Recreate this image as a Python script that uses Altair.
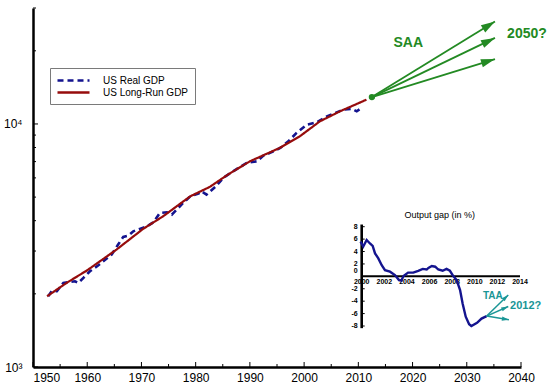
import math
import altair as alt
import pandas as pd

# ---------------- data ----------------
# US real GDP (billions of chained dollars)
real_years = [1952.8, 1953.45, 1954.4, 1955.6, 1956.5, 1957.75, 1958.35, 1959.3, 1960.5, 1962.0,
              1964.5, 1965.7, 1966.65, 1967.6, 1968.5, 1969.7, 1971.0, 1972.2, 1973.4, 1974.7,
              1975.6, 1976.8, 1977.7, 1979.0, 1980.5, 1981.1, 1982.0, 1983.6, 1985.1, 1986.9,
              1989.4, 1991.3, 1992.5, 1993.7, 1995.6, 1997.1, 1998.6, 2000.5, 2002.3, 2004.2,
              2006.0, 2007.2, 2008.8, 2009.7, 2010.6]
real_gdp = [1955, 2050, 2050, 2219, 2232, 2253, 2219, 2327, 2477, 2615,
            2901, 3190, 3431, 3474, 3617, 3701, 3793, 3939, 4306, 4330,
            4237, 4514, 4733, 5038, 5168, 5283, 5120, 5508, 5998, 6387,
            6915, 7019, 7407, 7601, 7966, 8484, 9184, 9934, 10152, 10745,
            11160, 11451, 11528, 11268, 11637]

# US long-run (trend) GDP
trend_years = [1952.6, 1956.2, 1960.0, 1965.4, 1970.3, 1974.0, 1979.0, 1982.6, 1986.0,
               1990.0, 1995.5, 1999.2, 2002.9, 2006.6, 2011.5]
trend_gdp = [1955, 2219, 2500, 3042, 3700, 4170, 5038, 5508, 6200,
             7019, 7966, 8894, 10250, 11268, 12586]

# long-run scenarios out to 2050
saa_origin_year = 2012.5
saa_origin_gdp = 12900
saa_end_years = [2035.2, 2035.2, 2035.2]
saa_end_gdp = [26400, 22600, 18500]
saa_labels = ["SAA", "2050?"]
saa_label_years = [2019.2, 2041.1]
saa_label_gdp = [21600, 23500]

# output gap, in percent
gap_years = [1999.9, 2000.14, 2000.44, 2000.73, 2000.97, 2001.18, 2001.47, 2001.77, 2002.06, 2002.5,
             2002.94, 2003.3, 2003.5, 2003.7, 2004.1, 2004.56, 2005.0, 2005.4, 2005.75, 2005.9,
             2006.2, 2006.5, 2006.77, 2007.16, 2007.5, 2007.8, 2008.1, 2008.4, 2008.7, 2008.93,
             2009.2, 2009.5, 2009.7, 2010.2, 2010.6, 2011.05]
gap_values = [5.6, 4.8, 5.85, 5.3, 4.9, 3.7, 2.9, 1.8, 1.0, 0.75,
              0.2, -0.6, -0.7, 0.05, 0.6, 0.6, 0.9, 1.2, 1.1, 1.35,
              1.66, 1.55, 1.1, 0.9, 1.2, 0.9, 0.05, -0.6, -2.2, -4.4,
              -6.5, -7.7, -8.0, -7.5, -6.8, -6.4]

# short-run scenarios for 2012
taa_origin_year = 2011.05
taa_origin_gap = -6.4
taa_end_years = [2012.96, 2012.96, 2013.02]
taa_end_gap = [-3.0, -4.85, -7.0]
taa_labels = ["TAA", "2012?"]
taa_label_years = [2011.6, 2014.5]
taa_label_gap = [-3.2, -4.8]

series_names = ["US Real GDP", "US Long-Run GDP"]
x_label_years = list(range(1950, 2041, 10))
x_minor_years = list(range(1955, 2040, 10))
y_major_values = [1000, 10000]
y_major_labels = ["10³", "10⁴"]
y_minor_values = [2000, 3000, 4000, 5000, 6000, 7000, 8000, 9000, 20000, 30000]
gap_tick_years = list(range(2000, 2015, 2))
gap_tick_values = [-8, -6, -4, -2, 2, 4, 6, 8]
gap_title = "Output gap (in %)"

# ---------------- layout & style ----------------
W, H = 488, 359
YEAR_DOMAIN = [1950, 2040]
GDP_DOMAIN = [1000, 30000]
INSET_YEARS = [2000, 2014]
INSET_GAP = [-8, 8]
INSET_X_RANGE = [328.7, 487.0]
INSET_Y_RANGE = [318.0, 218.7]

FONT = "Liberation Sans"
BLUE = "#14148f"
RED = "#960c0c"
GREEN = "#238a23"
TEAL = "#1a9696"
ARROW = "M0,0L0.6,2L-0.6,2Z"


def main_px(year):
    return (year - YEAR_DOMAIN[0]) / (YEAR_DOMAIN[1] - YEAR_DOMAIN[0]) * W


def main_py(v):
    lo, hi = math.log10(GDP_DOMAIN[0]), math.log10(GDP_DOMAIN[1])
    return (hi - math.log10(v)) / (hi - lo) * H


def inset_px(year):
    f = (year - INSET_YEARS[0]) / (INSET_YEARS[1] - INSET_YEARS[0])
    return INSET_X_RANGE[0] + f * (INSET_X_RANGE[1] - INSET_X_RANGE[0])


def inset_py(g):
    f = (g - INSET_GAP[0]) / (INSET_GAP[1] - INSET_GAP[0])
    return INSET_Y_RANGE[0] + f * (INSET_Y_RANGE[1] - INSET_Y_RANGE[0])


def bearing(dx, dy):
    return math.degrees(math.atan2(dx, -dy)) % 360


label_expr = " : ".join(
    f"datum.value == {v} ? '{t}'" for v, t in zip(y_major_values, y_major_labels)
) + " : ''"

x_axis = alt.Axis(
    values=x_label_years, format="d", ticks=False, grid=False, domainColor="black", domainWidth=2.5,
    labelFont=FONT, labelFontSize=12, labelColor="black", labelPadding=5,
    labelFlush=False, labelOverlap=False, title=None,
    labelAlign={"condition": {"test": f"datum.value == {YEAR_DOMAIN[0]}", "value": "left"},
                "value": "center"},
)
y_axis = alt.Axis(
    values=y_major_values, labelExpr=label_expr, ticks=False, grid=False,
    domainColor="black", domainWidth=2.5, labelFont=FONT, labelFontSize=12,
    labelColor="black", labelPadding=11, labelOverlap=False, title=None,
)
x_scale = alt.Scale(domain=YEAR_DOMAIN, nice=False, zero=False)
y_scale = alt.Scale(type="log", domain=GDP_DOMAIN, nice=False)


def X(field):
    return alt.X(field, type="quantitative", scale=x_scale, axis=x_axis)


def Y(field):
    return alt.Y(field, type="quantitative", scale=y_scale, axis=y_axis)


ix_scale = alt.Scale(domain=INSET_YEARS, range=INSET_X_RANGE, nice=False, zero=False)
iy_scale = alt.Scale(domain=INSET_GAP, range=INSET_Y_RANGE, nice=False, zero=False)


def IX(field):
    return alt.X(field, type="quantitative", scale=ix_scale, axis=None)


def IY(field):
    return alt.Y(field, type="quantitative", scale=iy_scale, axis=None)


# ---------------- main panel ----------------
real_df = pd.DataFrame({"year": real_years, "gdp": real_gdp, "series": series_names[0]})
trend_df = pd.DataFrame({"year": trend_years, "gdp": trend_gdp, "series": series_names[1]})

legend = alt.Legend(
    orient="none", legendX=17, legendY=60, title=None,
    symbolType="M-1,0H5.4", symbolSize=100, symbolStrokeWidth=2.5,
    labelFont=FONT, labelFontSize=10, labelColor="black", labelOffset=34,
    labelLimit=300, strokeColor="#7a7a7a", fillColor="white", padding=6, rowPadding=0,
)
color_enc = alt.Color("series:N", scale=alt.Scale(domain=series_names, range=[BLUE, RED]),
                      legend=legend)
dash_enc = alt.StrokeDash("series:N", scale=alt.Scale(domain=series_names, range=[[6, 4], [1, 0]]),
                          legend=legend)

real_line = alt.Chart(real_df).mark_line(strokeWidth=2.6).encode(
    x=X("year"), y=Y("gdp"), color=color_enc, strokeDash=dash_enc)
trend_line = alt.Chart(trend_df).mark_line(strokeWidth=2.2).encode(
    x=X("year"), y=Y("gdp"), color=color_enc, strokeDash=dash_enc)

# inward ticks on both axes
x_major_ticks = alt.Chart(pd.DataFrame({"year": x_label_years})).mark_rule(
    color="black", strokeWidth=1).encode(x=X("year"), y=alt.value(H), y2=alt.value(H - 5))
x_minor_ticks = alt.Chart(pd.DataFrame({"year": x_minor_years})).mark_rule(
    color="black", strokeWidth=1).encode(x=X("year"), y=alt.value(H), y2=alt.value(H - 3))
y_major_ticks = alt.Chart(pd.DataFrame({"gdp": y_major_values})).mark_rule(
    color="black", strokeWidth=1).encode(y=Y("gdp"), x=alt.value(0), x2=alt.value(5))
y_minor_ticks = alt.Chart(pd.DataFrame({"gdp": y_minor_values})).mark_rule(
    color="black", strokeWidth=1).encode(y=Y("gdp"), x=alt.value(0), x2=alt.value(3))

# SAA scenario arrows
ox, oy = main_px(saa_origin_year), main_py(saa_origin_gdp)
saa_df = pd.DataFrame({
    "year": [saa_origin_year] * len(saa_end_years),
    "gdp": [saa_origin_gdp] * len(saa_end_years),
    "end_year": saa_end_years,
    "end_gdp": saa_end_gdp,
    "angle": [bearing(main_px(a) - ox, main_py(b) - oy) for a, b in zip(saa_end_years, saa_end_gdp)],
})
saa_rules = alt.Chart(saa_df).mark_rule(color=GREEN, strokeWidth=1.8).encode(
    x=X("year"), y=Y("gdp"), x2="end_year:Q", y2="end_gdp:Q")
saa_heads = alt.Chart(saa_df).mark_point(
    shape=ARROW, filled=True, size=196, color=GREEN, opacity=1, strokeWidth=0
).encode(x=X("end_year"), y=Y("end_gdp"), angle=alt.Angle("angle:Q", scale=None))
saa_dot = alt.Chart(pd.DataFrame({"year": [saa_origin_year], "gdp": [saa_origin_gdp]})).mark_point(
    filled=True, size=40, color=GREEN, opacity=1).encode(x=X("year"), y=Y("gdp"))
saa_text = alt.Chart(pd.DataFrame({"year": saa_label_years, "gdp": saa_label_gdp,
                                   "label": saa_labels})).mark_text(
    font=FONT, fontSize=14, fontWeight="bold", color=GREEN, baseline="middle"
).encode(x=X("year"), y=Y("gdp"), text="label:N")

main = alt.layer(real_line, trend_line, x_major_ticks, x_minor_ticks, y_major_ticks,
                 y_minor_ticks, saa_rules, saa_heads, saa_dot, saa_text)

# ---------------- output gap inset ----------------
gap_df = pd.DataFrame({"year": gap_years, "gap": gap_values})

spine = alt.Chart(pd.DataFrame({"year": [INSET_YEARS[0]], "gap": [INSET_GAP[0] - 0.35],
                                "gap2": [INSET_GAP[1] + 0.35]})).mark_rule(
    color="black", strokeWidth=2.6).encode(x=IX("year"), y=IY("gap"), y2="gap2:Q")
zero_axis = alt.Chart(pd.DataFrame({"year": [INSET_YEARS[0]], "year2": [INSET_YEARS[1]],
                                    "gap": [0]})).mark_rule(
    color="black", strokeWidth=2).encode(x=IX("year"), x2="year2:Q", y=IY("gap"))
gap_ticks = alt.Chart(pd.DataFrame({"gap": gap_tick_values})).mark_rule(
    color="black", strokeWidth=1).encode(
    y=IY("gap"), x=alt.value(INSET_X_RANGE[0]), x2=alt.value(INSET_X_RANGE[0] + 3))
gap_ylabels = alt.Chart(pd.DataFrame({"gap": gap_tick_values,
                                      "label": [str(v) for v in gap_tick_values]})).mark_text(
    font=FONT, fontSize=7, fontWeight="bold", color="black", align="right", baseline="middle", dx=-4
).encode(x=alt.value(INSET_X_RANGE[0]), y=IY("gap"), text="label:N")
gap_zero_label = alt.Chart(pd.DataFrame({"gap": [0], "label": ["0"]})).mark_text(
    font=FONT, fontSize=7, fontWeight="bold", color="black", align="right", baseline="middle",
    dx=-4, dy=-5
).encode(x=alt.value(INSET_X_RANGE[0]), y=IY("gap"), text="label:N")
gap_xlabels = alt.Chart(pd.DataFrame({"year": gap_tick_years, "gap": 0,
                                      "label": [str(v) for v in gap_tick_years]})).mark_text(
    font=FONT, fontSize=7, fontWeight="bold", color="black", align="center", baseline="middle", dy=6
).encode(x=IX("year"), y=IY("gap"), text="label:N")
gap_title_text = alt.Chart(pd.DataFrame({"label": [gap_title]})).mark_text(
    font=FONT, fontSize=9, color="black", align="center", baseline="middle"
).encode(x=alt.value((INSET_X_RANGE[0] + INSET_X_RANGE[1]) / 2 - 1),
         y=alt.value(INSET_Y_RANGE[1] - 12), text="label:N")
gap_line = alt.Chart(gap_df).mark_line(color=BLUE, strokeWidth=2.4).encode(
    x=IX("year"), y=IY("gap"))

tx, ty = inset_px(taa_origin_year), inset_py(taa_origin_gap)
taa_df = pd.DataFrame({
    "year": [taa_origin_year] * len(taa_end_years),
    "gap": [taa_origin_gap] * len(taa_end_years),
    "end_year": taa_end_years,
    "end_gap": taa_end_gap,
    "angle": [bearing(inset_px(a) - tx, inset_py(b) - ty) for a, b in zip(taa_end_years, taa_end_gap)],
})
taa_rules = alt.Chart(taa_df).mark_rule(color=TEAL, strokeWidth=1.5).encode(
    x=IX("year"), y=IY("gap"), x2="end_year:Q", y2="end_gap:Q")
taa_heads = alt.Chart(taa_df).mark_point(
    shape=ARROW, filled=True, size=49, color=TEAL, opacity=1, strokeWidth=0
).encode(x=IX("end_year"), y=IY("end_gap"), angle=alt.Angle("angle:Q", scale=None))
taa_text = alt.Chart(pd.DataFrame({"year": taa_label_years, "gap": taa_label_gap,
                                   "label": taa_labels, "size": [10, 11]})).mark_text(
    font=FONT, fontWeight="bold", color=TEAL, baseline="middle"
).encode(x=IX("year"), y=IY("gap"), text="label:N", size=alt.Size("size:Q", scale=None))

inset = alt.layer(spine, zero_axis, gap_ticks, gap_ylabels, gap_zero_label, gap_xlabels,
                  gap_title_text, gap_line, taa_rules, taa_heads, taa_text)

chart = alt.layer(main, inset).resolve_scale(
    x="independent", y="independent"
).properties(
    width=W, height=H,
    padding={"left": 33, "top": 8, "right": 27, "bottom": 18},
    autosize=alt.AutoSizeParams(type="none"),
    background="white",
).configure_view(stroke=None)

chart.save("out.html", embed_options={"renderer": "svg", "actions": False})
